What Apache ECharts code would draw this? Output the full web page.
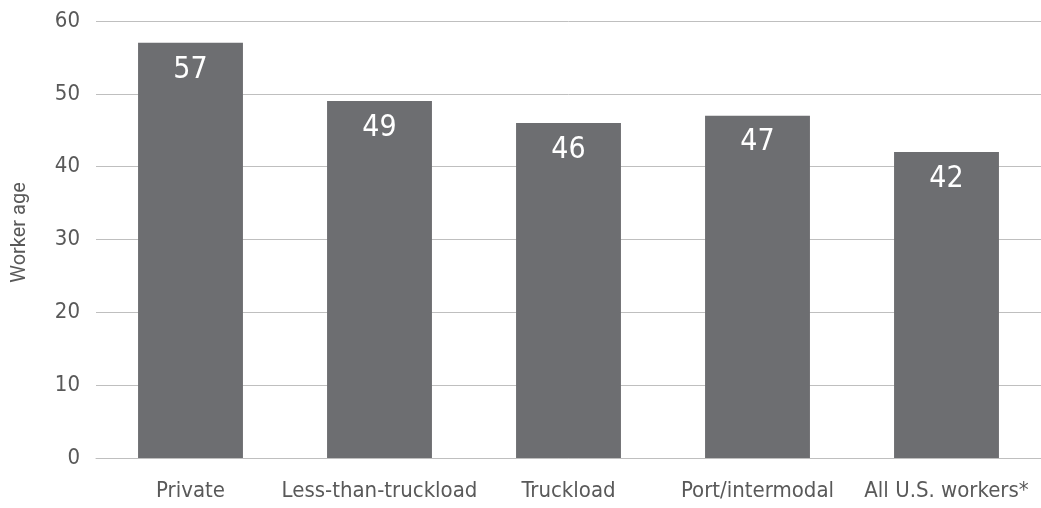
<!DOCTYPE html>
<html>
<head>
<meta charset="utf-8">
<script src="https://cdn.jsdelivr.net/npm/echarts@6/dist/echarts.min.js"></script>
<style>
  html, body { margin: 0; padding: 0; background: #fff; }
  #chart { width: 1041px; height: 508px; }
</style>
</head>
<body>
<div id="chart"></div>
<script>
const categories = ['Private', 'Less-than-truckload', 'Truckload', 'Port/intermodal', 'All U.S. workers*']
const workerAge = [57, 49, 46, 47, 42]
const yTicks = { min: 0, max: 60, interval: 10 }

const narrow = '"Liberation Sans Narrow", "DejaVu Sans Condensed", sans-serif'

const chart = echarts.init(document.getElementById('chart'))
chart.setOption({
  animation: false,
  grid: { left: 96, right: 0, top: 21, bottom: 50, outerBoundsMode: 'none' },
  xAxis: {
    type: 'category',
    data: categories,
    axisLine: { show: true, lineStyle: { color: '#bfbfbf', width: 1 } },
    axisTick: { show: false },
    axisLabel: { interval: 0, color: '#595959', fontFamily: narrow, fontSize: 22, margin: 22 },
  },
  yAxis: {
    type: 'value',
    min: yTicks.min,
    max: yTicks.max,
    interval: yTicks.interval,
    name: 'Worker age',
    nameLocation: 'middle',
    nameGap: 66,
    nameTextStyle: { color: '#595959', fontSize: 20, fontFamily: 'Roboto, sans-serif', padding: [0, 0, 0, 14] },
    axisLine: { show: false },
    axisTick: { show: false },
    axisLabel: { color: '#595959', fontFamily: narrow, fontSize: 22, margin: 16 },
    splitLine: { lineStyle: { color: '#bfbfbf', width: 1 } },
  },
  series: [{
    type: 'bar',
    data: workerAge,
    barWidth: '55.5%',
    itemStyle: { color: '#6d6e71' },
    label: {
      show: true,
      position: 'insideTop',
      distance: 12,
      color: '#ffffff',
      fontFamily: narrow,
      fontSize: 30,
    },
  }],
})
</script>
</body>
</html>
